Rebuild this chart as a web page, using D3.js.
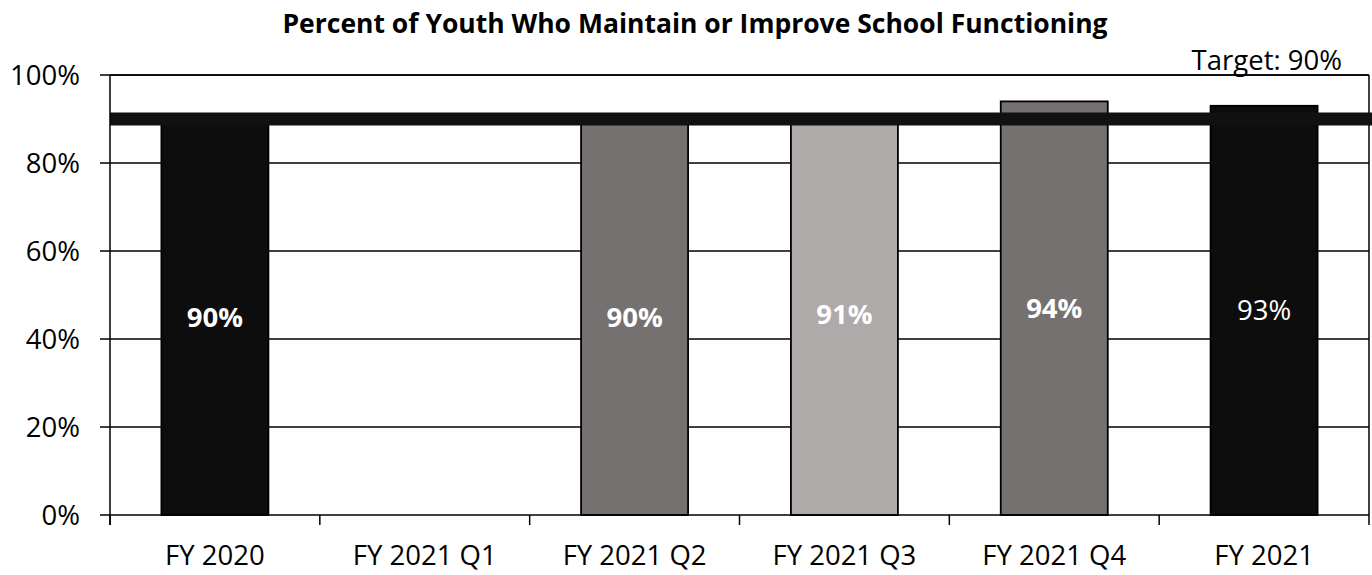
<!DOCTYPE html>
<html>
<head>
<meta charset="utf-8">
<script src="https://cdn.jsdelivr.net/npm/d3@7"></script>
<style>
  html, body { margin: 0; padding: 0; background: #fff; }
  svg { display: block; font-family: "Open Sans", "Noto Sans", sans-serif; }
</style>
</head>
<body>
<svg id="chart" width="1372" height="575"></svg>
<script>
// Reporting periods and their results (percent); Q1 has no reported value
const categories = ["FY 2020", "FY 2021 Q1", "FY 2021 Q2", "FY 2021 Q3", "FY 2021 Q4", "FY 2021"];
const values = [90, null, 90, 91, 94, 93];
const barColors = ["#0d0d0d", "#ffffff", "#767171", "#aeaaaa", "#767171", "#0d0d0d"];
const labelBold = [true, true, true, true, true, false];
const yTicks = [0, 20, 40, 60, 80, 100];
const target = 90;
const titleText = "Percent of Youth Who Maintain or Improve School Functioning";
const targetText = "Target: 90%";

const svg = d3.select("#chart");
const margin = { top: 75, right: 3, bottom: 60, left: 110 };
const W = 1372, H = 575;
const plotW = W - margin.left - margin.right;
const plotH = H - margin.top - margin.bottom;

const x = d3.scaleBand().domain(categories).range([0, plotW]).paddingInner(0.49).paddingOuter(0.245);
const xTick = d3.scaleBand().domain(categories).range([0, plotW]);
const y = d3.scaleLinear().domain([0, 100]).range([plotH, 0]);

const g = svg.append("g").attr("transform", `translate(${margin.left},${margin.top})`);

// Horizontal gridlines
g.append("g").selectAll("line")
  .data(yTicks.filter(t => t > 0))
  .join("line")
  .attr("x1", 0).attr("x2", plotW)
  .attr("y1", d => y(d)).attr("y2", d => y(d))
  .attr("stroke", "#000").attr("stroke-width", 1.5);

// Right border of the plot area
g.append("line")
  .attr("x1", plotW).attr("x2", plotW)
  .attr("y1", 0).attr("y2", plotH)
  .attr("stroke", "#000").attr("stroke-width", 1.5);

// Bars
const barData = categories.map((c, i) => ({ c, v: values[i], color: barColors[i], bold: labelBold[i] }))
  .filter(d => d.v !== null);

g.append("g").selectAll("rect")
  .data(barData)
  .join("rect")
  .attr("x", d => x(d.c))
  .attr("width", x.bandwidth())
  .attr("y", d => y(d.v))
  .attr("height", d => plotH - y(d.v))
  .attr("fill", d => d.color)
  .attr("stroke", "#000")
  .attr("stroke-width", 1.8);

// Target line drawn over the bars
g.append("line")
  .attr("x1", 0).attr("x2", plotW + 3)
  .attr("y1", y(target)).attr("y2", y(target))
  .attr("stroke", "#111").attr("stroke-width", 13);

// Value labels centred in each bar
g.append("g").selectAll("text")
  .data(barData)
  .join("text")
  .attr("x", d => x(d.c) + x.bandwidth() / 2)
  .attr("y", d => (y(d.v) + plotH) / 2)
  .attr("dy", "0.35em")
  .attr("text-anchor", "middle")
  .attr("fill", "#fff")
  .attr("font-size", 27.5)
  .attr("font-weight", d => d.bold ? 700 : 400)
  .text(d => d.v + "%");

// X axis
const xAxis = g.append("g").attr("transform", `translate(0,${plotH})`);
xAxis.append("line").attr("x1", 0).attr("x2", plotW).attr("y1", 0).attr("y2", 0)
  .attr("stroke", "#000").attr("stroke-width", 1.5);
xAxis.selectAll("line.tick")
  .data(categories.map(c => xTick(c)).concat([plotW]))
  .join("line").attr("class", "tick")
  .attr("x1", d => d).attr("x2", d => d).attr("y1", 0).attr("y2", 10)
  .attr("stroke", "#000").attr("stroke-width", 1.5);
xAxis.selectAll("text")
  .data(categories)
  .join("text")
  .attr("x", d => xTick(d) + xTick.bandwidth() / 2)
  .attr("y", 50)
  .attr("text-anchor", "middle")
  .attr("font-size", 27.5)
  .attr("fill", "#000")
  .text(d => d);

// Y axis
const yAxis = g.append("g");
yAxis.append("line").attr("x1", 0).attr("x2", 0).attr("y1", 0).attr("y2", plotH + 10)
  .attr("stroke", "#000").attr("stroke-width", 1.5);
yAxis.selectAll("line.tick")
  .data(yTicks)
  .join("line").attr("class", "tick")
  .attr("x1", -10).attr("x2", d => d === 100 ? plotW : 0)
  .attr("y1", d => y(d)).attr("y2", d => y(d))
  .attr("stroke", "#000").attr("stroke-width", 1.5);
yAxis.selectAll("text")
  .data(yTicks)
  .join("text")
  .attr("x", -30)
  .attr("y", d => y(d))
  .attr("dy", "0.35em")
  .attr("text-anchor", "end")
  .attr("font-size", 27.5)
  .attr("fill", "#000")
  .text(d => d + "%");

// Title and target note
svg.append("text")
  .attr("x", 695).attr("y", 33)
  .attr("text-anchor", "middle")
  .attr("font-size", 26.5)
  .attr("font-weight", 700)
  .attr("fill", "#000")
  .text(titleText);

svg.append("text")
  .attr("x", 1342).attr("y", 70)
  .attr("text-anchor", "end")
  .attr("font-size", 27.5)
  .attr("fill", "#000")
  .text(targetText);
</script>
</body>
</html>
